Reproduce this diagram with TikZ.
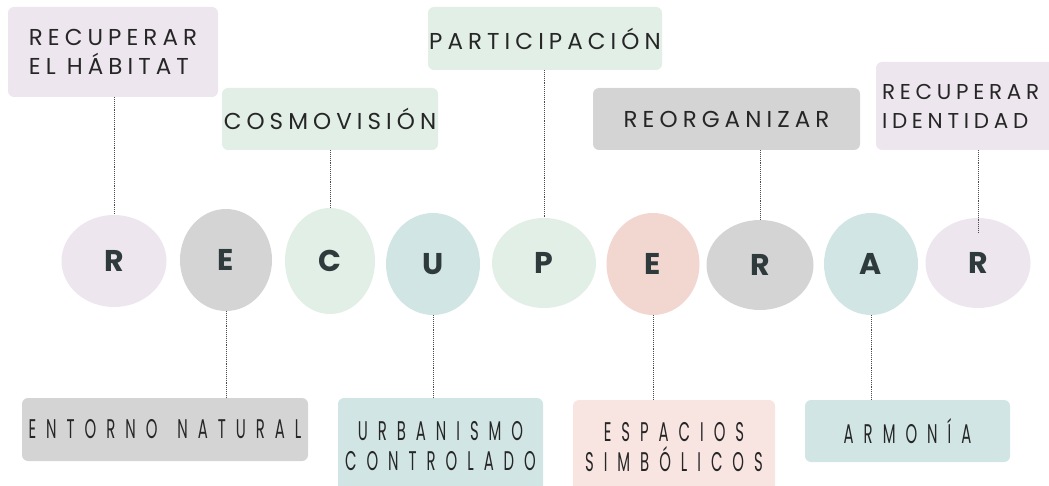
\documentclass[tikz,border=0pt]{standalone}
\usepackage{fontspec}
\setmainfont{Poppins}
\newfontfamily\labelfont[LetterSpace=22]{Poppins}
\newfontfamily\narrowfont[FakeStretch=0.55,LetterSpace=37]{Poppins}
\usetikzlibrary{shapes.geometric}

\definecolor{lavender}{HTML}{EDE6EE}
\definecolor{stone}{HTML}{D4D4D4}
\definecolor{mint}{HTML}{E1EFE6}
\definecolor{sea}{HTML}{D1E5E4}
\definecolor{blush}{HTML}{F2D6D0}
\definecolor{blushlight}{HTML}{F8E5E1}
\definecolor{ink}{HTML}{2E3A3C}

\tikzset{
  tag/.style = {fill = #1, rounded corners = 6pt, inner sep = 0pt, text = black!85},
  toptag/.style = {tag = #1, font = \labelfont\fontsize{23}{29}\selectfont},
  bottomtag/.style = {tag = #1, font = \narrowfont\fontsize{27}{30}\selectfont},
  blob/.style = {ellipse, fill = #1, inner sep = 0pt, text = ink, font = \fontsize{30}{30}\selectfont\bfseries},
  link/.style = {densely dotted, line width = 0.9pt, black!70}
}

\begin{document}
\begin{tikzpicture}[x = 1pt, y = -1pt]
      \useasboundingbox (0, 0) rectangle (1049, 486);
      % letters
      \node[blob = lavender, minimum width = 105pt, minimum height = 92pt] (Letter R1) at (114, 261) {R};
      \node[blob = stone, minimum width = 92pt, minimum height = 102pt] (Letter E1) at (226, 260) {E};
      \node[blob = mint, minimum width = 90pt, minimum height = 106pt] (Letter C) at (330, 261) {C};
      \node[blob = sea, minimum width = 94pt, minimum height = 102pt] (Letter U) at (433, 264) {U};
      \node[blob = mint, minimum width = 104pt, minimum height = 90pt] (Letter P) at (544, 263) {P};
      \node[blob = blush, minimum width = 93pt, minimum height = 102pt] (Letter E2) at (653, 264) {E};
      \node[blob = stone, minimum width = 107pt, minimum height = 90pt] (Letter R2) at (760, 265) {R};
      \node[blob = sea, minimum width = 94pt, minimum height = 102pt] (Letter A) at (871, 264) {A};
      \node[blob = lavender, minimum width = 105pt, minimum height = 90pt] (Letter R3) at (978, 263) {R};
      % top labels
      \node[toptag = lavender, minimum width = 210pt, minimum height = 90pt, align = left] (Recuperar Habitat) at (113, 52) {RECUPERAR\\EL HÁBITAT};
      \node[toptag = mint, minimum width = 216pt, minimum height = 62pt] (Cosmovision) at (330, 119) {COSMOVISIÓN};
      \node[toptag = mint, minimum width = 234pt, minimum height = 63pt] (Participacion) at (545, 38.5) {PARTICIPACIÓN};
      \node[toptag = stone, minimum width = 267pt, minimum height = 62pt] (Reorganizar) at (726.5, 119) {REORGANIZAR};
      \node[toptag = lavender, minimum width = 190pt, minimum height = 88pt, align = left, text width = 178pt,
            font = \labelfont\fontsize{21.5}{29}\selectfont] (Recuperar Identidad) at (971, 106) {RECUPERAR\\IDENTIDAD};
      % bottom labels
      \node[bottomtag = stone, minimum width = 286pt, minimum height = 63pt] (Entorno Natural) at (165, 429.5) {ENTORNO\hspace{6pt} NATURAL};
      \node[bottomtag = sea, minimum width = 205pt, minimum height = 96pt, align = center] (Urbanismo Controlado) at (440.5, 446) {URBANISMO\\CONTROLADO};
      \node[bottomtag = blushlight, minimum width = 202pt, minimum height = 94pt, align = center] (Espacios Simbolicos) at (674, 447) {ESPACIOS\\SIMBÓLICOS};
      \node[bottomtag = sea, minimum width = 205pt, minimum height = 62pt] (Armonia) at (907.5, 431) {ARMONÍA};
      % dotted links
      \draw[link] (Letter R1 |- Recuperar Habitat.south) -- (Letter R1.north);
      \draw[link] (Letter C |- Cosmovision.south) -- (Letter C.north);
      \draw[link] (Letter P |- Participacion.south) -- (Letter P.north);
      \draw[link] (Letter R2 |- Reorganizar.south) -- (Letter R2.north);
      \draw[link] (Letter R3 |- Recuperar Identidad.south) -- ([yshift = -15pt] Letter R3.north);
      \draw[link] (Letter E1.south) -- (Letter E1 |- Entorno Natural.north);
      \draw[link] (Letter U.south) -- (Letter U |- Urbanismo Controlado.north);
      \draw[link] (Letter E2.south) -- (Letter E2 |- Espacios Simbolicos.north);
      \draw[link] (Letter A.south) -- (Letter A |- Armonia.north);
    \end{tikzpicture}
\end{document}
